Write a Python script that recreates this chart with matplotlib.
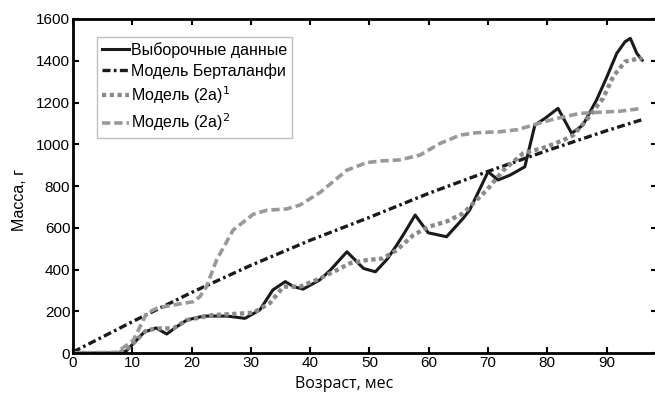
import numpy as np
import matplotlib
matplotlib.use("Agg")
import matplotlib.pyplot as plt

# sample data (black solid)
age_obs = [0, 2, 4, 6, 8, 9, 10, 12, 14, 15.8, 17.5, 19.2, 22, 26, 29, 31.5, 33.7, 35.8, 37.2, 38.8,
           41.6, 43.4, 46.2, 49, 51, 53, 54.6, 56, 57.7, 59.9, 63, 65.8, 66.9, 70, 71.7, 73.7, 76.2,
           77.9, 79.6, 81.8, 84.1, 86, 88.3, 90, 91.7, 93.1, 94, 95.1, 96]
mass_obs = [0, 0, 0, 0, 0, 10, 40, 100, 120, 91, 126, 158, 177, 177, 166, 206, 302, 342, 318, 306,
            350, 397, 485, 405, 389, 450, 517, 580, 661, 576, 557, 645, 685, 868, 829, 852, 892,
            1092, 1124, 1172, 1052, 1092, 1212, 1320, 1435, 1491, 1507, 1435, 1403]

# Bertalanffy model (dash-dot)
age_bert = [0, 10, 20, 30, 40, 50, 60, 70, 80, 90, 96]
mass_bert = [5, 150, 290, 420, 540, 650, 765, 870, 970, 1065, 1118]

# model (2a)^1 (dotted)
age_m1 = [0, 7, 8, 9.6, 12.4, 14.7, 16.9, 19.2, 23.6, 27, 30.4, 33.2, 35.5, 38.3, 41.7, 44.5, 46.7,
          49.5, 52.3, 54.6, 57.4, 60, 63, 65.8, 69.8, 72.6, 75.9, 79.9, 82.7, 84.4, 86.6, 88.3, 89.4,
          91.1, 93.1, 95.6, 96]
mass_m1 = [0, 0, 5, 30, 110, 118, 118, 158, 182, 187, 193, 239, 318, 318, 358, 397, 430, 445, 453,
           493, 565, 605, 630, 669, 781, 876, 956, 988, 1020, 1044, 1116, 1180, 1220, 1324, 1396,
           1412, 1405]

# model (2a)^2 (dashed)
age_m2 = [0, 7.4, 10.2, 12.4, 14.1, 16.9, 20.3, 21.4, 22.5, 24.2, 27, 29.3, 30.4, 32.7, 36, 38.3,
          41.7, 46.2, 49.5, 52, 55.1, 58.5, 61.9, 65.3, 68, 72, 75, 77.6, 81, 85.5, 90, 92.2, 96]
mass_m2 = [0, 3, 62, 190, 214, 230, 246, 270, 318, 445, 589, 640, 665, 684, 690, 709, 770, 876, 912,
           920, 925, 948, 1004, 1044, 1055, 1060, 1070, 1092, 1120, 1148, 1155, 1158, 1172]

labels = ["Выборочные данные", "Модель Берталанфи", "Модель (2a)$^1$", "Модель (2a)$^2$"]

plt.rcParams["font.family"] = ["Liberation Sans", "DejaVu Sans"]

fig = plt.figure(figsize=(6.55, 3.95), dpi=100)
ax = fig.add_axes([0.1115, 0.1063, 0.8916, 0.8456])

ax.plot(age_obs, mass_obs, color="#1a1a1a", lw=2.2, label=labels[0])
ax.plot(age_bert, mass_bert, color="#1a1a1a", lw=2.4, dashes=(2.4, 1.0, 0.8, 1.0), label=labels[1])
ax.plot(age_m1, mass_m1, color="#8a8a8a", lw=3.1, dashes=(1.0, 0.8), label=labels[2])
ax.plot(age_m2, mass_m2, color="#999999", lw=2.6, dashes=(2.3, 1.1), label=labels[3])

ax.set_xlim(0, 98.5)
ax.set_ylim(0, 1600)
ax.set_xticks(np.arange(0, 100, 10))
ax.set_yticks(np.arange(0, 1601, 200))

for s in ax.spines.values():
    s.set_linewidth(2)
ax.tick_params(direction="in", length=4, width=1.5, top=True, right=True,
               labelsize=11, pad=2)

ax.set_xlabel("Возраст, мес", fontsize=11.5, family=["Open Sans", "DejaVu Sans"])
ax.xaxis.set_label_coords(0.465, -0.068)
ax.set_ylabel("Масса, г", fontsize=11.5)
ax.yaxis.set_label_coords(-0.079, 0.458)

leg = ax.legend(loc="upper left", bbox_to_anchor=(0.041, 0.946), fontsize=11.5,
                frameon=True, fancybox=False, handlelength=1.7, handletextpad=0.1,
                borderpad=0.3, labelspacing=0.35, borderaxespad=0)
leg.get_frame().set_edgecolor("#b0b0b0")
leg.get_frame().set_linewidth(1)

fig.savefig("out.png", dpi=100)
